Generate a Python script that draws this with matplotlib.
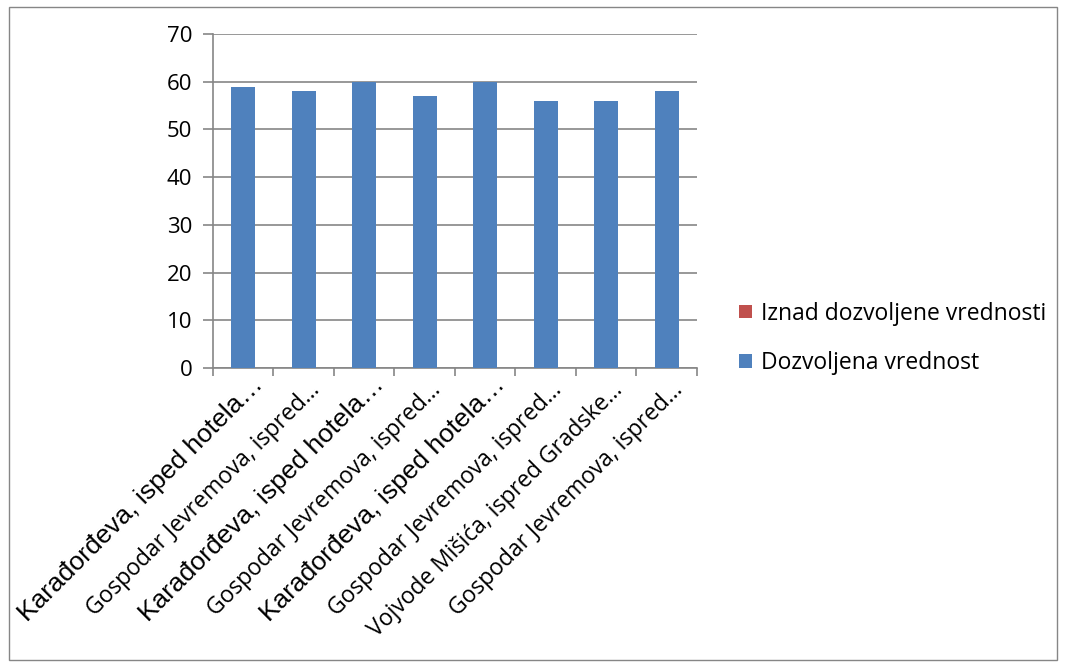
import matplotlib
matplotlib.use("Agg")
import matplotlib.pyplot as plt
import matplotlib.patches as mpatches
import matplotlib.transforms as mtransforms
import numpy as np

categories = [
    "Karađorđeva, isped hotela…",
    "Gospodar Jevremova, ispred…",
    "Karađorđeva, isped hotela…",
    "Gospodar Jevremova, ispred…",
    "Karađorđeva, isped hotela…",
    "Gospodar Jevremova, ispred…",
    "Vojvode Mišića, ispred Gradske…",
    "Gospodar Jevremova, ispred…",
]
dozvoljena = [59, 58, 60, 57, 60, 56, 56, 58]
iznad = [0, 0, 0, 0, 0, 0, 0, 0]

BLUE = "#4f81bd"
RED = "#c0504d"
GRID = "#868686"
FONT = "Open Sans"

fig = plt.figure(figsize=(10.66, 6.63), dpi=100)
ax = fig.add_axes([0.1998, 0.4449, 0.454, 0.5038])

x = np.arange(len(categories))
ax.bar(x, dozvoljena, width=0.4, color=BLUE, label="Dozvoljena vrednost", zorder=3)
ax.bar(x, iznad, width=0.4, bottom=dozvoljena, color=RED, label="Iznad dozvoljene vrednosti", zorder=3)

ax.set_xlim(-0.5, len(categories) - 0.5)
ax.set_ylim(0, 70)
ax.set_yticks(range(0, 71, 10))
ax.yaxis.grid(True, color=GRID, lw=1.2, zorder=0)
for s in ["top", "right"]:
    ax.spines[s].set_visible(False)
for s in ["left", "bottom"]:
    ax.spines[s].set_color(GRID)
    ax.spines[s].set_linewidth(1.2)
ax.tick_params(axis="y", length=7, width=1.2, color=GRID, labelsize=16, pad=8)
for t in ax.get_yticklabels():
    t.set_fontfamily(FONT)

ax.set_xticks(x)
ax.set_xticks(np.arange(-0.5, len(categories), 1.0), minor=True)
ax.tick_params(axis="x", which="major", length=0, pad=0)
ax.tick_params(axis="x", which="minor", length=6, width=1.2, color=GRID)
ax.set_xticklabels(categories, rotation=45, ha="right", va="baseline", rotation_mode="anchor")
for t, name in zip(ax.get_xticklabels(), categories):
    if name.startswith("Karađorđeva"):
        t.set_fontfamily("Liberation Sans")
        t.set_fontsize(19)
        dx, dy = 0.21, -0.18
    else:
        t.set_fontfamily(FONT)
        t.set_fontsize(16.5)
        dx, dy = 0.17, -0.23
    t.set_transform(t.get_transform() + mtransforms.ScaledTranslation(dx, dy, fig.dpi_scale_trans))

handles, labels = ax.get_legend_handles_labels()
fig.legend(handles[::-1], labels[::-1], loc="center left", bbox_to_anchor=(0.674, 0.49),
           frameon=False, prop={"family": FONT, "size": 16.5},
           handlelength=0.55, handleheight=0.55, labelspacing=1.1, handletextpad=0.4)

fig.patches.append(mpatches.Rectangle((0.008, 0.005), 0.984, 0.985, transform=fig.transFigure,
                                      fill=False, ec=GRID, lw=1.0))

fig.savefig("out.png", dpi=100)
